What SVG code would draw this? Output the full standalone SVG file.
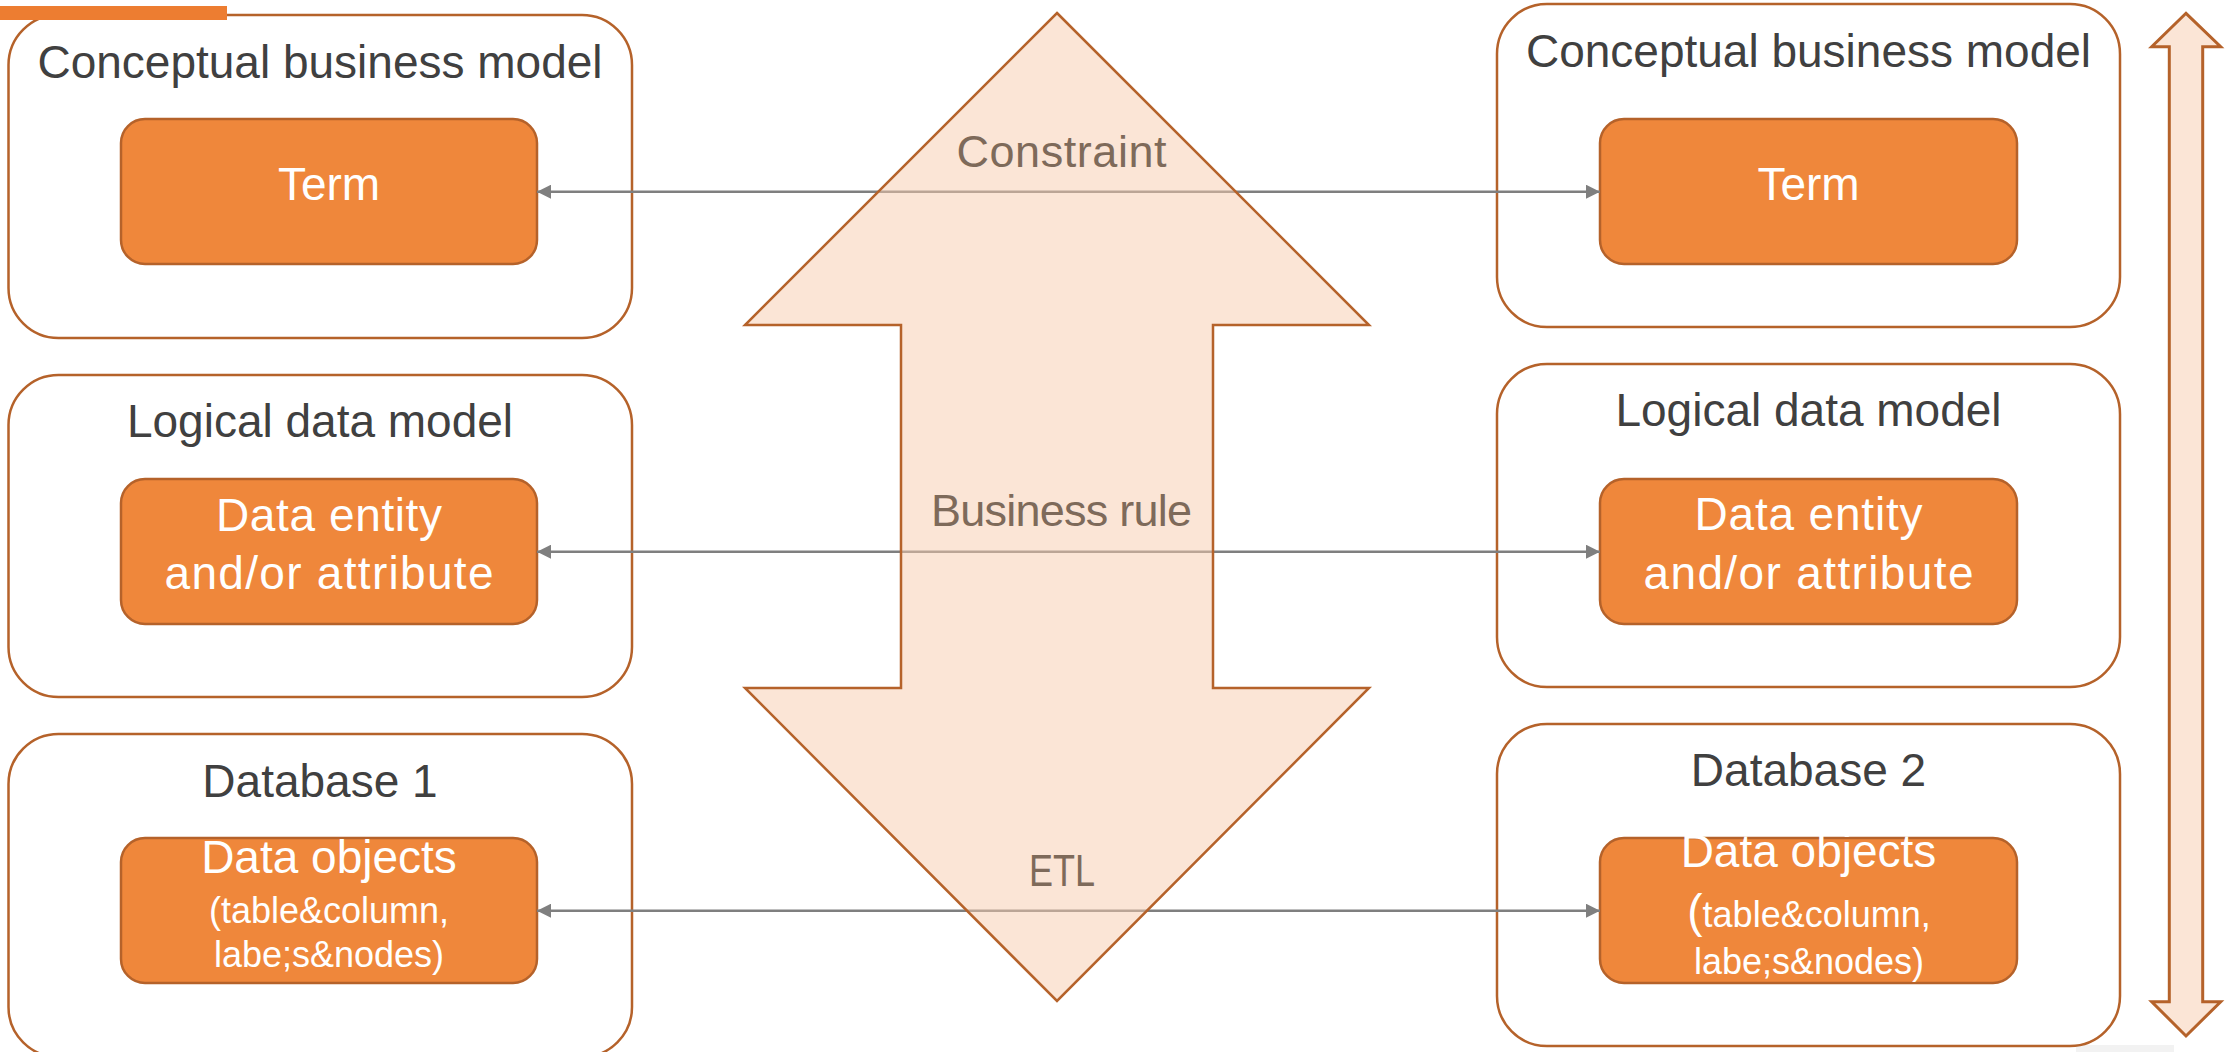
<svg xmlns="http://www.w3.org/2000/svg" width="2227" height="1052" viewBox="0 0 2227 1052">
<style>
.outer{fill:#ffffff;stroke:#b5622a;stroke-width:2.5}
.inner{fill:#ef873b;stroke:#b5622a;stroke-width:2.5}
.title{font-family:"Liberation Sans",Arial,sans-serif;font-size:46px;fill:#404040;text-anchor:middle}
.itxt{font-family:"Liberation Sans",Arial,sans-serif;font-size:46px;fill:#ffffff;text-anchor:middle}
.small{font-size:36px}
.conn{fill:none;stroke:#7f7f7f;stroke-width:2.5}
.lbl{font-family:"Liberation Sans",Arial,sans-serif;font-size:45px;fill:#7e6a5a;text-anchor:middle}
</style>
<defs>
<marker id="ah" viewBox="0 0 14 14" refX="14" refY="7" markerWidth="14" markerHeight="14" markerUnits="userSpaceOnUse" orient="auto-start-reverse">
<path d="M0,0 L14,7 L0,14 Z" fill="#7f7f7f"/>
</marker>
</defs>
<rect x="0" y="0" width="2227" height="1052" fill="#ffffff"/>
<rect x="2076" y="1045" width="98" height="7" fill="#f2f2f2"/>

<g id="left-conceptual">
<rect class="outer" x="8.5" y="15" width="623.5" height="323" rx="50"/>
<text class="title" x="320" y="78">Conceptual business model</text>
</g>
<g id="left-term">
<rect class="inner" x="121" y="119" width="416" height="145" rx="24"/>
<text class="itxt" x="329" y="200">Term</text>
</g>
<g id="left-logical">
<rect class="outer" x="8.5" y="375" width="623.5" height="322" rx="50"/>
<text class="title" x="320" y="437">Logical data model</text>
</g>
<g id="left-entity">
<rect class="inner" x="121" y="479" width="416" height="145" rx="24"/>
<text class="itxt" x="329" y="531" textLength="226">Data entity</text>
<text class="itxt" x="329" y="589" textLength="329">and/or attribute</text>
</g>
<g id="left-database">
<rect class="outer" x="8.5" y="734" width="623.5" height="323" rx="50"/>
<text class="title" x="320" y="797">Database 1</text>
</g>
<g id="left-objects">
<rect class="inner" x="121" y="838" width="416" height="145" rx="24"/>
<text class="itxt" x="329" y="873">Data objects</text>
<text class="itxt small" x="329" y="923">(table&amp;column,</text>
<text class="itxt small" x="329" y="967">labe;s&amp;nodes)</text>
</g>

<g id="right-conceptual">
<rect class="outer" x="1497" y="4" width="623" height="323" rx="50"/>
<text class="title" x="1808.5" y="67">Conceptual business model</text>
</g>
<g id="right-term">
<rect class="inner" x="1600" y="119" width="417" height="145" rx="24"/>
<text class="itxt" x="1808.5" y="200">Term</text>
</g>
<g id="right-logical">
<rect class="outer" x="1497" y="364" width="623" height="323" rx="50"/>
<text class="title" x="1808.5" y="426">Logical data model</text>
</g>
<g id="right-entity">
<rect class="inner" x="1600" y="479" width="417" height="145" rx="24"/>
<text class="itxt" x="1808.5" y="530" textLength="228">Data entity</text>
<text class="itxt" x="1808.5" y="589" textLength="330">and/or attribute</text>
</g>
<g id="right-database">
<rect class="outer" x="1497" y="724" width="623" height="322" rx="50"/>
<text class="title" x="1808.5" y="786">Database 2</text>
</g>
<g id="right-objects">
<rect class="inner" x="1600" y="838" width="417" height="145" rx="24"/>
<text class="itxt" x="1808.5" y="867">Data objects</text>
<text class="itxt small" x="1809" y="927"><tspan font-size="46">(</tspan>table&amp;column,</text>
<text class="itxt small" x="1809" y="974">labe;s&amp;nodes)</text>
</g>

<g id="connectors">
<path class="conn" d="M537,191.7 H1600" marker-start="url(#ah)" marker-end="url(#ah)"/>
<path class="conn" d="M537,551.7 H1600" marker-start="url(#ah)" marker-end="url(#ah)"/>
<path class="conn" d="M537,910.7 H1600" marker-start="url(#ah)" marker-end="url(#ah)"/>
</g>

<g id="big-arrow">
<polygon points="1057,13 1369,325 1213,325 1213,688 1369,688 1057,1001 745,688 901,688 901,325 745,325" fill="#f8cbad" fill-opacity="0.5" stroke="#b5622a" stroke-width="2.5"/>
<text class="lbl" x="1061.5" y="167" textLength="210">Constraint</text>
<text class="lbl" x="1061.5" y="525.7" textLength="261">Business rule</text>
<text class="lbl" x="1062" y="885.7" textLength="66" lengthAdjust="spacingAndGlyphs">ETL</text>
</g>

<g id="side-arrow">
<polygon points="2186,13.3 2220.7,46.7 2202.7,46.7 2202.7,1001.7 2220.7,1001.7 2186,1036 2151.7,1001.7 2169.3,1001.7 2169.3,46.7 2151.7,46.7" fill="#fbe5d6" stroke="#b5622a" stroke-width="3"/>
</g>

<rect x="0" y="6" width="227" height="14" fill="#ed7d31"/>
</svg>
